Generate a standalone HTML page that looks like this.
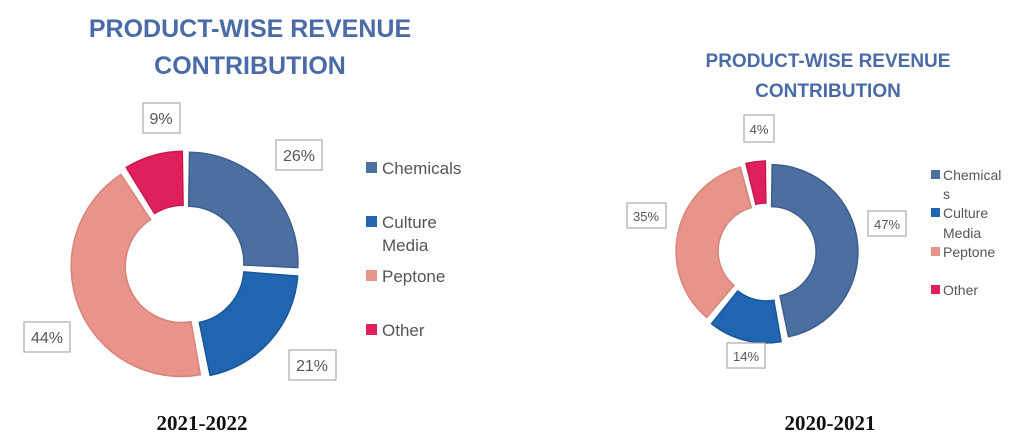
<!DOCTYPE html>
<html><head><meta charset="utf-8"><style>
body{margin:0;background:#fff;width:1024px;height:446px;overflow:hidden}
svg{display:block}
text{font-family:"Liberation Sans",sans-serif}
</style></head><body>
<svg id="s" width="1024" height="446" xmlns="http://www.w3.org/2000/svg">
<g font-weight="bold" fill="#4a6aa8" text-anchor="middle">
<text x="250" y="37" font-size="25">PRODUCT-WISE REVENUE</text>
<text x="250" y="74" font-size="25">CONTRIBUTION</text>
<text x="828" y="67" font-size="19">PRODUCT-WISE REVENUE</text>
<text x="828" y="97" font-size="19">CONTRIBUTION</text>
</g>
<g font-family="Liberation Serif" font-weight="bold" font-size="21" fill="#111" text-anchor="middle">
<text x="202" y="430" style="font-family:'Liberation Serif',serif">2021-2022</text>
<text x="830" y="430" style="font-family:'Liberation Serif',serif">2020-2021</text>
</g>
<g id="donuts"></g>
<g fill="#fff" stroke="#aaa" stroke-width="1.2">
<rect x="143" y="103" width="37" height="30"/><rect x="276" y="140" width="46" height="30"/>
<rect x="24" y="322" width="46" height="30"/><rect x="289" y="350" width="47" height="30"/>
<rect x="744" y="115" width="30" height="27"/><rect x="868" y="211" width="38" height="25"/>
<rect x="627" y="203" width="39" height="25"/><rect x="727" y="343" width="38" height="25"/>
</g>
<g fill="#555" text-anchor="middle" font-size="16">
<text x="161" y="124">9%</text><text x="299" y="161">26%</text>
<text x="47" y="343">44%</text><text x="312" y="371">21%</text>
<g font-size="13"><text x="759" y="134">4%</text><text x="887" y="229">47%</text>
<text x="646" y="221">35%</text><text x="746" y="361">14%</text></g>
</g>
<g font-size="17" fill="#555">
<rect x="366" y="162" width="11" height="11" fill="#4a6fa0"/><text x="382" y="174">Chemicals</text>
<rect x="366" y="216" width="11" height="11" fill="#1f65b0"/><text x="382" y="228">Culture</text><text x="382" y="251">Media</text>
<rect x="366" y="270" width="11" height="11" fill="#e8948a"/><text x="382" y="282">Peptone</text>
<rect x="366" y="324" width="11" height="11" fill="#e0205a"/><text x="382" y="336">Other</text>
</g>
<g font-size="14" fill="#555">
<rect x="931" y="170" width="9" height="9" fill="#4a6fa0"/><text x="943" y="180">Chemical</text><text x="943" y="199">s</text>
<rect x="931" y="208" width="9" height="9" fill="#1f65b0"/><text x="943" y="218">Culture</text><text x="943" y="238">Media</text>
<rect x="931" y="247" width="9" height="9" fill="#e8948a"/><text x="943" y="257">Peptone</text>
<rect x="931" y="285" width="9" height="9" fill="#e0205a"/><text x="943" y="295">Other</text>
</g>
</svg>
<script>
var cols=["#4a6fa0","#1f65b0","#e8948a","#e0205a"],strk=["#3d5e8c","#1a5699","#d8847a","#c81a4e"];
function donut(cx,cy,R,r,vals,ex){var g=document.getElementById("donuts"),a=0,out="";
vals.forEach(function(v,i){var a0=a,a1=a+v*3.6;a=a1;var m=(a0+a1)/2*Math.PI/180;
var dx=Math.sin(m)*ex,dy=-Math.cos(m)*ex;
function p(rr,ang){ang=ang*Math.PI/180;return (cx+dx+rr*Math.sin(ang)).toFixed(1)+","+(cy+dy-rr*Math.cos(ang)).toFixed(1);}
var g0=a0+0.8,g1=a1-0.8,l=(g1-g0)>180?1:0;
out+='<path d="M'+p(R,g0)+' A'+R+','+R+' 0 '+l+' 1 '+p(R,g1)+' L'+p(r,g1)+' A'+r+','+r+' 0 '+l+' 0 '+p(r,g0)+' Z" fill="'+cols[i]+'" stroke="'+strk[i]+'" stroke-width="1.5"/>';});
g.innerHTML+=out;}
donut(185,265,110,56,[26,21,44,9],4);
donut(767,252,87,45,[47,14,35,4],4);
</script>
</body></html>
